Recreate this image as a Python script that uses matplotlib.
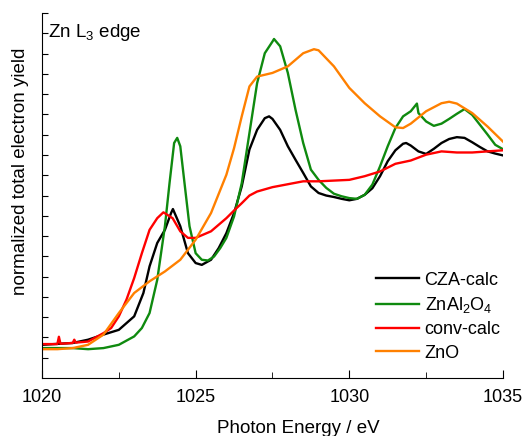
import numpy as np
import matplotlib
matplotlib.use("Agg")
import matplotlib.pyplot as plt
from matplotlib.ticker import MultipleLocator

plt.rcParams['font.family'] = ['Liberation Sans', 'DejaVu Sans']
plt.rcParams['mathtext.fontset'] = 'custom'
plt.rcParams['mathtext.rm'] = 'Liberation Sans'
plt.rcParams['mathtext.it'] = 'Liberation Sans'

# Zn L3 edge spectra (normalized TEY, arbitrary units)
e_cza = [1020, 1021, 1021.5, 1022, 1022.5, 1023, 1023.3, 1023.5, 1023.75, 1024,
         1024.2, 1024.26, 1024.5, 1024.75, 1025, 1025.2, 1025.5, 1025.75, 1026,
         1026.25, 1026.5, 1026.75, 1027, 1027.25, 1027.39, 1027.5, 1027.75, 1028,
         1028.25, 1028.5, 1028.75, 1029, 1029.25, 1029.5, 1029.75, 1030, 1030.25,
         1030.5, 1030.75, 1031, 1031.25, 1031.5, 1031.75, 1031.85, 1032, 1032.25,
         1032.5, 1032.75, 1033, 1033.25, 1033.5, 1033.75, 1034, 1034.25, 1034.5,
         1034.75, 1035]
i_cza = [0.091, 0.096, 0.105, 0.119, 0.132, 0.169, 0.233, 0.306, 0.37, 0.406,
         0.452, 0.463, 0.416, 0.342, 0.315, 0.31, 0.324, 0.356, 0.397,
         0.452, 0.525, 0.626, 0.68, 0.712, 0.717, 0.71, 0.68, 0.635,
         0.598, 0.562, 0.525, 0.507, 0.5, 0.496, 0.491, 0.487, 0.491,
         0.502, 0.52, 0.553, 0.594, 0.624, 0.642, 0.644, 0.637, 0.621,
         0.614, 0.628, 0.644, 0.655, 0.66, 0.658, 0.646, 0.633, 0.621,
         0.615, 0.61]

e_znal = [1020, 1021, 1021.5, 1022, 1022.5, 1023, 1023.25, 1023.5, 1023.75, 1024,
          1024.15, 1024.3, 1024.4, 1024.5, 1024.65, 1024.8, 1025, 1025.2, 1025.4,
          1025.6, 1025.8, 1026, 1026.25, 1026.5, 1026.75, 1027, 1027.25, 1027.5,
          1027.55, 1027.75, 1028, 1028.25, 1028.5, 1028.75, 1029, 1029.25, 1029.5,
          1029.75, 1030, 1030.25, 1030.5, 1030.75, 1031, 1031.25, 1031.5, 1031.75,
          1032, 1032.2, 1032.25, 1032.5, 1032.75, 1033, 1033.25, 1033.5, 1033.75,
          1034, 1034.25, 1034.5, 1034.75, 1035]
i_znal = [0.082, 0.082, 0.079, 0.082, 0.091, 0.114, 0.137, 0.178, 0.269, 0.416,
          0.534, 0.644, 0.658, 0.635, 0.525, 0.416, 0.342, 0.324, 0.322,
          0.333, 0.356, 0.384, 0.443, 0.534, 0.671, 0.808, 0.89, 0.922,
          0.929, 0.909, 0.836, 0.735, 0.644, 0.571, 0.543, 0.521, 0.505,
          0.498, 0.493, 0.491, 0.502, 0.53, 0.58, 0.635, 0.685, 0.717,
          0.731, 0.752, 0.726, 0.703, 0.691, 0.697, 0.71, 0.724, 0.737,
          0.721, 0.694, 0.667, 0.639, 0.627]

e_conv = [1020, 1020.5, 1020.55, 1020.6, 1021, 1021.05, 1021.1, 1021.5, 1022,
          1022.25, 1022.5, 1022.75, 1023, 1023.25, 1023.5, 1023.75, 1023.95,
          1024.25, 1024.5, 1024.75, 1025, 1025.25, 1025.5, 1025.75, 1026, 1026.25,
          1026.5, 1026.75, 1027, 1027.5, 1028, 1028.5, 1029, 1029.5, 1030, 1030.5,
          1031, 1031.5, 1032, 1032.5, 1033, 1033.5, 1034, 1034.5, 1035]
i_conv = [0.093, 0.093, 0.113, 0.094, 0.096, 0.105, 0.097, 0.1, 0.123,
          0.137, 0.169, 0.215, 0.274, 0.342, 0.406, 0.438, 0.454,
          0.438, 0.402, 0.384, 0.384, 0.393, 0.402, 0.42, 0.438, 0.459,
          0.479, 0.5, 0.511, 0.523, 0.531, 0.539, 0.539, 0.541, 0.543, 0.553,
          0.566, 0.587, 0.596, 0.612, 0.621, 0.618, 0.618, 0.621, 0.624]

e_zno = [1020, 1020.5, 1021, 1021.5, 1022, 1022.5, 1023, 1023.5, 1024, 1024.5,
         1025, 1025.5, 1026, 1026.25, 1026.5, 1026.75, 1027, 1027.5, 1028, 1028.5,
         1028.85, 1029, 1029.5, 1030, 1030.5, 1031, 1031.5, 1031.75, 1032, 1032.5,
         1033, 1033.25, 1033.5, 1034, 1034.5, 1035]
i_zno = [0.079, 0.079, 0.082, 0.091, 0.119, 0.178, 0.233, 0.265, 0.292, 0.324,
         0.379, 0.452, 0.557, 0.63, 0.717, 0.799, 0.826, 0.836, 0.854, 0.89,
         0.901, 0.898, 0.854, 0.795, 0.753, 0.717, 0.687, 0.685, 0.697, 0.731,
         0.753, 0.757, 0.752, 0.726, 0.689, 0.648]

fig = plt.figure(figsize=(5.25, 4.36), dpi=100)
ax = fig.add_axes([0.08, 0.133, 0.878, 0.837])

ax.plot(e_cza, i_cza, color='black', lw=1.7, label='CZA-calc')
ax.plot(e_znal, i_znal, color='#0f8a0f', lw=1.7, label='ZnAl$_2$O$_4$')
ax.plot(e_conv, i_conv, color='#ff0000', lw=1.7, label='conv-calc')
ax.plot(e_zno, i_zno, color='#ff8000', lw=1.7, label='ZnO')

ax.set_xlim(1020, 1035)
ax.set_ylim(0, 1)
ax.xaxis.set_major_locator(MultipleLocator(5))
ax.xaxis.set_minor_locator(MultipleLocator(2.5))
ax.set_yticks(np.arange(1, 19) / 18)
ax.set_yticklabels([])
ax.tick_params(axis='x', which='both', direction='in', top=False, labelsize=13, pad=8)
ax.tick_params(axis='x', which='major', length=6)
ax.tick_params(axis='x', which='minor', length=4)
ax.tick_params(axis='y', direction='in', right=False, length=4)
for s in ('top', 'right'):
    ax.spines[s].set_visible(False)

ax.set_xlabel('Photon Energy / eV', fontsize=13.5)
ax.xaxis.set_label_coords(0.555, -0.115)
ax.set_ylabel('normalized total electron yield', fontsize=13.5)
ax.yaxis.set_label_coords(-0.029, 0.567)
ax.text(0.012, 0.975, 'Zn L$_3$ edge', transform=ax.transAxes, fontsize=13.5,
        ha='left', va='top')

ax.legend(loc='lower right', bbox_to_anchor=(1.03, 0.0), frameon=False,
          fontsize=13, handlelength=2.4, handletextpad=0.3, labelspacing=0.35)

fig.savefig('out.png', dpi=100)
